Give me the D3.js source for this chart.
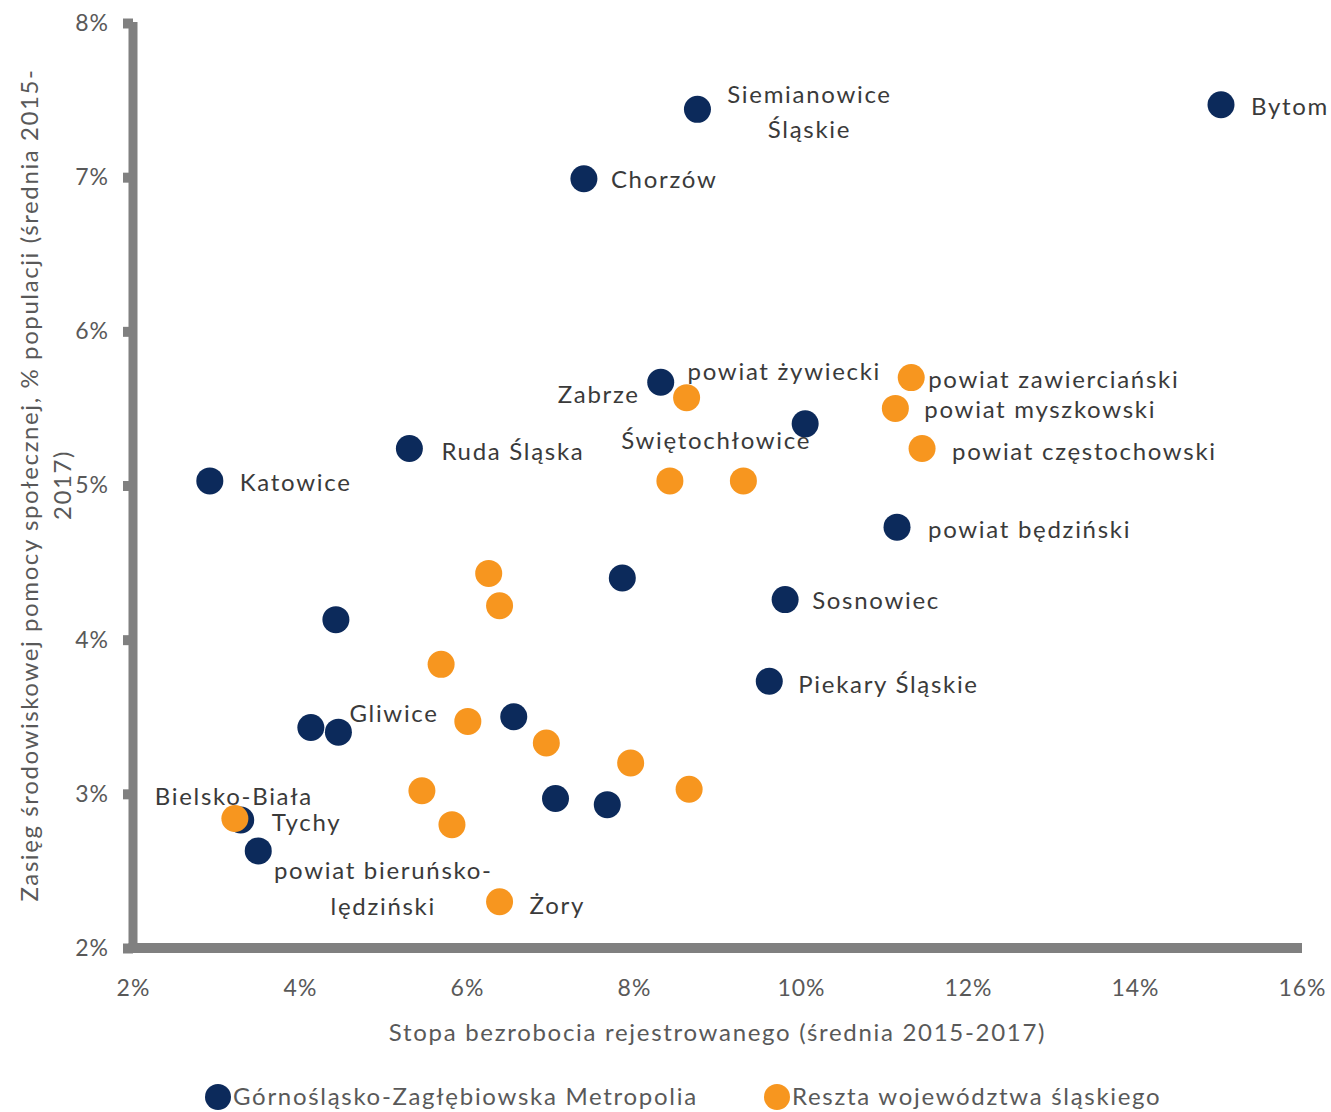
<!DOCTYPE html>
<html>
<head>
<meta charset="utf-8">
<script src="https://cdn.jsdelivr.net/npm/d3@7"></script>
<style>
  html, body { margin: 0; padding: 0; background: #fff; }
  svg { display: block; }
  text { font-family: "Lato", "Open Sans", "DejaVu Sans", sans-serif; }
</style>
</head>
<body>
<svg id="chart" width="1331" height="1112"></svg>
<script>
// ---- data ----
const metroNames = ["Bytom","Siemianowice Śląskie","Chorzów","Zabrze","Świętochłowice","Ruda Śląska","Katowice","powiat będziński","","Sosnowiec","","Piekary Śląskie","","Gliwice","","","","Tychy","powiat bieruńsko-lędziński"];
const metroX = [15.03, 8.76, 7.40, 8.32, 10.05, 5.31, 2.92, 11.15, 7.86, 9.81, 4.43, 9.62, 4.13, 4.46, 6.56, 7.06, 7.68, 3.29, 3.50];
const metroY = [7.47, 7.44, 6.99, 5.67, 5.40, 5.24, 5.03, 4.73, 4.40, 4.26, 4.13, 3.73, 3.43, 3.40, 3.50, 2.97, 2.93, 2.83, 2.63];

const restNames = ["powiat zawierciański","powiat myszkowski","powiat częstochowski","powiat żywiecki","","","","","","","","","","","","Bielsko-Biała","Żory"];
const restX = [11.32, 11.13, 11.45, 8.63, 8.43, 9.31, 6.26, 6.39, 5.69, 6.01, 6.95, 7.96, 8.66, 5.46, 5.82, 3.22, 6.39];
const restY = [5.70, 5.50, 5.24, 5.57, 5.03, 5.03, 4.43, 4.22, 3.84, 3.47, 3.33, 3.20, 3.03, 3.02, 2.80, 2.84, 2.30];

const xTicks = [2, 4, 6, 8, 10, 12, 14, 16];
const yTicks = [2, 3, 4, 5, 6, 7, 8];
const seriesNames = ["Górnośląsko-Zagłębiowska Metropolia", "Reszta województwa śląskiego"];
const xTitle = "Stopa bezrobocia rejestrowanego (średnia 2015-2017)";
const yTitleLines = ["Zasięg środowiskowej pomocy społecznej, % populacji (średnia 2015-", "2017)"];

// ---- layout (label placement relative to point) ----
const labelLayout = {
  "Bytom": {dx: 30, dy: 2, anchor: "start"},
  "Siemianowice Śląskie": {dx: 112, lines: [["Siemianowice", -15], ["Śląskie", 20]], anchor: "middle"},
  "Chorzów": {dx: 27, dy: 1, anchor: "start"},
  "Zabrze": {dx: -21, dy: 12, anchor: "end"},
  "Świętochłowice": {dx: -89, dy: 17, anchor: "middle"},
  "Ruda Śląska": {dx: 32, dy: 3, anchor: "start"},
  "Katowice": {dx: 30, dy: 2, anchor: "start"},
  "powiat będziński": {dx: 31, dy: 2, anchor: "start"},
  "Sosnowiec": {dx: 27, dy: 1, anchor: "start"},
  "Piekary Śląskie": {dx: 29, dy: 3, anchor: "start"},
  "Gliwice": {dx: 11, dy: -19, anchor: "start"},
  "Tychy": {dx: 31, dy: 3, anchor: "start"},
  "powiat bieruńsko-lędziński": {dx: 125, lines: [["powiat bieruńsko-", 20], ["lędziński", 56]], anchor: "middle"},
  "powiat zawierciański": {dx: 17, dy: 2, anchor: "start"},
  "powiat myszkowski": {dx: 29, dy: 1, anchor: "start"},
  "powiat częstochowski": {dx: 30, dy: 3, anchor: "start"},
  "powiat żywiecki": {dx: 1, dy: -26, anchor: "start"},
  "Bielsko-Biała": {dx: -1, dy: -22, anchor: "middle"},
  "Żory": {dx: 30, dy: 4, anchor: "start"}
};

const colors = ["#0c2a5b", "#f7961f"];
const axisColor = "#808080";
const tickTextColor = "#595959";
const labelColor = "#3a3a3a";

const svg = d3.select("#chart");
const x = d3.scaleLinear().domain([2, 16]).range([133, 1302]);
const y = d3.scaleLinear().domain([2, 8]).range([948, 23]);
const pct = d => d + "%";

// axes
const yAxis = svg.append("g").attr("transform", `translate(${x(2)},0)`)
  .call(d3.axisLeft(y).tickValues(yTicks).tickFormat(pct).tickSizeInner(10).tickSizeOuter(0).tickPadding(14));
yAxis.select(".domain").attr("stroke", axisColor).attr("stroke-width", 9).attr("d", `M0,${y(8) - 1}V${y(2) + 4.5}`);
yAxis.selectAll(".tick line").attr("stroke", axisColor).attr("stroke-width", 10);
yAxis.selectAll(".tick text").attr("fill", tickTextColor).style("font-size", "23px").style("letter-spacing", "1px").attr("dy", "0.32em");

const xAxis = svg.append("g").attr("transform", `translate(0,${y(2)})`)
  .call(d3.axisBottom(x).tickValues(xTicks).tickFormat(pct).tickSizeInner(0).tickSizeOuter(0).tickPadding(32));
xAxis.select(".domain").attr("stroke", axisColor).attr("stroke-width", 10).attr("d", `M${x(2) - 4.5},0H${x(16)}`);
xAxis.selectAll(".tick text").attr("fill", tickTextColor).style("font-size", "23px").style("letter-spacing", "1px");

// axis titles
svg.append("text").attr("x", x(9)).attr("y", 1041).attr("text-anchor", "middle")
  .attr("fill", tickTextColor).style("font-size", "24px").style("letter-spacing", "1.7px").text(xTitle);
const yt = svg.append("text").attr("transform", "translate(30,485) rotate(-90)")
  .attr("text-anchor", "middle").attr("fill", tickTextColor).style("font-size", "24px").style("letter-spacing", "1.6px");
yt.append("tspan").attr("x", 0).attr("dy", "0.35em").text(yTitleLines[0]);
yt.append("tspan").attr("x", 0).attr("dy", 33).text(yTitleLines[1]);

// points
const series = [
  metroNames.map((n, i) => ({name: n, x: metroX[i], y: metroY[i], s: 0})),
  restNames.map((n, i) => ({name: n, x: restX[i], y: restY[i], s: 1}))
];
const r = 13.5;
series.forEach((pts, si) => {
  svg.append("g").selectAll("circle").data(pts).join("circle")
    .attr("cx", d => x(d.x)).attr("cy", d => y(d.y)).attr("r", r).attr("fill", colors[si]);
});

// labels
const lblG = svg.append("g");
series.flat().filter(d => d.name).forEach(d => {
  const L = labelLayout[d.name];
  const px = x(d.x), py = y(d.y);
  const lines = L.lines ? L.lines : [[d.name, L.dy]];
  lines.forEach(([t, dy]) => {
    lblG.append("text").attr("x", px + L.dx).attr("y", py + dy).attr("dy", "0.35em")
      .attr("text-anchor", L.anchor).attr("fill", labelColor).style("font-size", "24px")
      .style("letter-spacing", "1.7px").text(t);
  });
});

// legend
const leg = svg.append("g");
const legX = [218, 777];
seriesNames.forEach((n, i) => {
  leg.append("circle").attr("cx", legX[i]).attr("cy", 1097).attr("r", 13).attr("fill", colors[i]);
  leg.append("text").attr("x", legX[i] + 15).attr("y", 1097).attr("dy", "0.35em")
    .attr("fill", tickTextColor).style("font-size", "24px").style("letter-spacing", "1.7px").text(n);
});
</script>
</body>
</html>
